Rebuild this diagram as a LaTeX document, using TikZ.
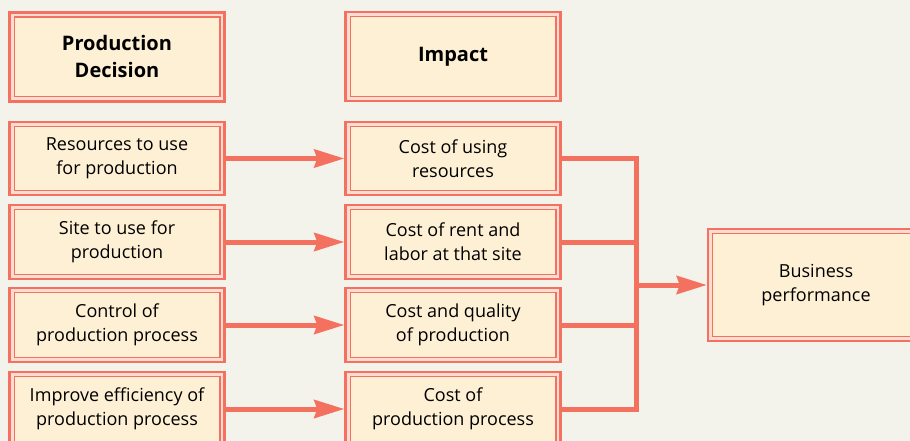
\documentclass[tikz,border=0pt]{standalone}
\usepackage{fontspec}
\setmainfont{Open Sans}
\usetikzlibrary{arrows.meta}
\definecolor{bg}{HTML}{F3F3EB}
\definecolor{cream}{HTML}{FEF0D4}
\definecolor{salmon}{HTML}{F4705F}
\definecolor{gap}{HTML}{FBDCD2}
\tikzset{
  box/.style={draw=salmon, line width=2.4pt, fill=gap, minimum width=215pt, align=center,
    font=\fontsize{18}{24}\selectfont, inner sep=0pt,
    path picture={\draw[salmon, line width=1.2pt, fill=cream]
      ([shift={(4.6pt,-4.6pt)}]path picture bounding box.north west) rectangle
      ([shift={(-4.6pt,4.6pt)}]path picture bounding box.south east);}},
  head/.style={box, font=\fontsize{20}{27}\selectfont\bfseries},
  conn/.style={draw=salmon, line width=5pt, line join=miter},
  arr/.style={conn, -{Stealth[length=30pt,width=18pt,inset=3pt]}}
}
\begin{document}
\begin{tikzpicture}[x=1pt,y=-1pt]
\clip (0,0) rectangle (910,441);
\fill[bg] (0,0) rectangle (910,441);
\node[head, minimum height=89pt] (h1) at (117,57) {Production\\Decision};
\node[head, minimum height=89pt] (h2) at (453,56.5) {Impact};
\node[box, minimum height=73pt] (l1) at (117,158.5) {Resources to use\\for production};
\node[box, minimum height=74pt] (l2) at (117,242) {Site to use for\\production};
\node[box, minimum height=74pt] (l3) at (117,325) {Control of\\production process};
\node[box, minimum height=74pt] (l4) at (117,409) {Improve efficiency of\\production process};
\node[box, minimum height=73pt] (m1) at (453,158.5) {Cost of using\\resources};
\node[box, minimum height=74pt] (m2) at (453,242) {Cost of rent and\\labor at that site};
\node[box, minimum height=74pt] (m3) at (453,325) {Cost and quality\\of production};
\node[box, minimum height=74pt] (m4) at (453,409) {Cost of\\production process};
\node[box, minimum width=216pt, minimum height=112pt] (biz) at (816,285) {Business\\performance};
\coordinate (top) at (636,158.5);
\coordinate (bot) at (636,409);
\coordinate (j) at (636,285);
\foreach \i in {1,...,4} { \draw[arr] (l\i.east) -- (m\i.west); }
\draw[conn] (m1.east) -- (top) -- (bot) -- (m4.east);
\draw[conn] (m2.east) -- (m2.east -| top);
\draw[conn] (m3.east) -- (m3.east -| top);
\draw[arr] (j) -- (biz.west);
\end{tikzpicture}
\end{document}
